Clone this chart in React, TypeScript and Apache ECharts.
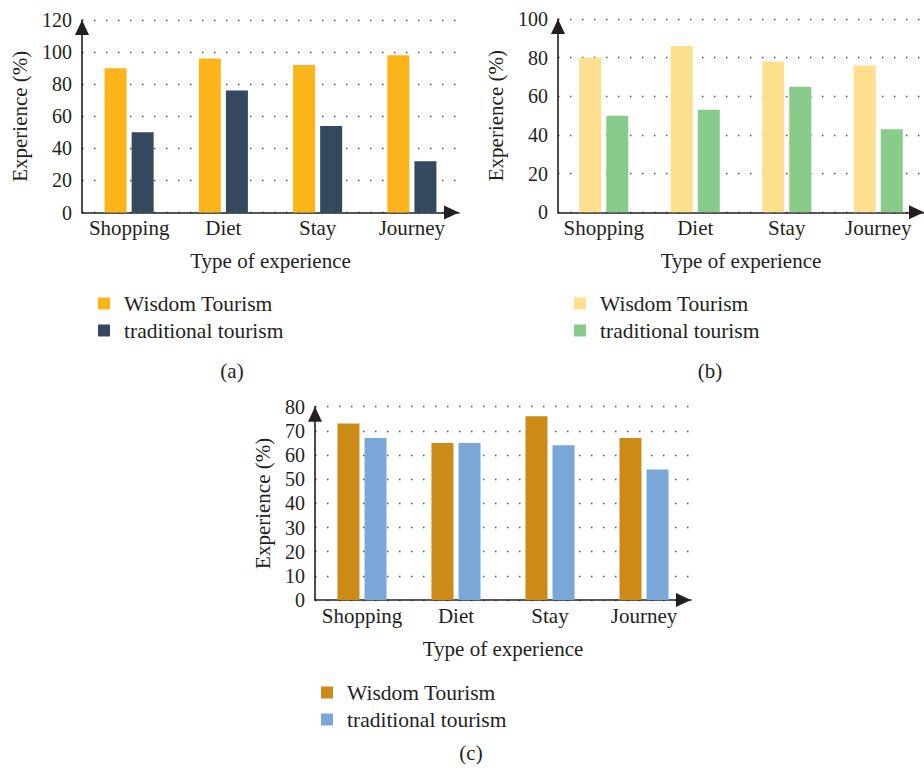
import React, { useEffect, useRef } from "react";
import * as echarts from "echarts";

const categories = ["Shopping", "Diet", "Stay", "Journey"];
const wisdomA = [90, 96, 92, 98];
const traditionalA = [50, 76, 54, 32];
const wisdomB = [80, 86, 78, 76];
const traditionalB = [50, 53, 65, 43];
const wisdomC = [73, 65, 76, 67];
const traditionalC = [67, 65, 64, 54];
const seriesNames = ["Wisdom Tourism", "traditional tourism"];
const panelLabels = ["(a)", "(b)", "(c)"];
const xTitle = "Type of experience";
const yTitle = "Experience (%)";

const FONT = '"Liberation Serif", "Times New Roman", serif';
const INK = "#231f20";
const FS = 21;
const TICK_FS = 20;

type Panel = {
  key: string;
  left: number;
  top: number;
  width: number;
  height: number;
  max: number;
  interval: number;
  wisdom: number[];
  trad: number[];
  colors: [string, string];
  legendLeft: number;
  legendTop: number;
  yNameGap: number;
  label: string;
  labelX: number;
  labelY: number;
};

const panels: Panel[] = [
  {
    key: "a", left: 82, top: 20, width: 377, height: 192.5, max: 120, interval: 20,
    wisdom: wisdomA, trad: traditionalA, colors: ["#FBB41A", "#34495E"],
    legendLeft: 98, legendTop: 292.5, yNameGap: 52, label: panelLabels[0], labelX: 232, labelY: 371,
  },
  {
    key: "b", left: 558, top: 19, width: 377, height: 193.3, max: 100, interval: 20,
    wisdom: wisdomB, trad: traditionalB, colors: ["#FDDF8E", "#89CB8B"],
    legendLeft: 574, legendTop: 292.5, yNameGap: 52, label: panelLabels[1], labelX: 710, labelY: 371,
  },
  {
    key: "c", left: 315, top: 406.7, width: 376, height: 193.3, max: 80, interval: 10,
    wisdom: wisdomC, trad: traditionalC, colors: ["#CC8A17", "#78A7D8"],
    legendLeft: 321, legendTop: 681.5, yNameGap: 42, label: panelLabels[2], labelX: 471, labelY: 753,
  },
];

function buildOption() {
  const grid: any[] = [];
  const xAxis: any[] = [];
  const yAxis: any[] = [];
  const series: any[] = [];
  const legend: any[] = [];
  const graphic: any[] = [];
  const axisLine = {
    show: true,
    symbol: ["none", "triangle"],
    symbolSize: [14, 15],
    symbolOffset: [0, -7.5],
    lineStyle: { color: INK, width: 1.6 },
  };
  panels.forEach((p, i) => {
    grid.push({ left: p.left, top: p.top, width: p.width, height: p.height, containLabel: false });
    xAxis.push({
      type: "category",
      gridIndex: i,
      data: categories,
      boundaryGap: true,
      axisLine,
      axisTick: { show: false },
      axisLabel: { interval: 0, color: INK, fontFamily: FONT, fontSize: FS, margin: 5 },
      name: xTitle,
      nameLocation: "middle",
      nameGap: 38,
      nameTextStyle: { color: INK, fontFamily: FONT, fontSize: FS },
      splitLine: { show: false },
    });
    yAxis.push({
      type: "value",
      gridIndex: i,
      min: 0,
      max: p.max,
      interval: p.interval,
      axisLine,
      axisTick: { show: false },
      axisLabel: { color: INK, fontFamily: FONT, fontSize: TICK_FS, margin: 10 },
      splitLine: {
        show: true,
        lineStyle: { color: "#555", width: 1.3, type: [1.5, 10.5] },
      },
      name: yTitle,
      nameLocation: "middle",
      nameGap: p.yNameGap,
      nameRotate: 90,
      nameTextStyle: { color: INK, fontFamily: FONT, fontSize: FS },
    });
    const n0 = p.key + ":" + seriesNames[0];
    const n1 = p.key + ":" + seriesNames[1];
    series.push({
      type: "bar",
      name: n0,
      xAxisIndex: i,
      yAxisIndex: i,
      data: p.wisdom,
      barWidth: 22,
      barGap: "23%",
      itemStyle: { color: p.colors[0] },
    });
    series.push({
      type: "bar",
      name: n1,
      xAxisIndex: i,
      yAxisIndex: i,
      data: p.trad,
      barWidth: 22,
      barGap: "23%",
      itemStyle: { color: p.colors[1] },
    });
    legend.push({
      data: [n0, n1],
      orient: "vertical",
      left: p.legendLeft,
      top: p.legendTop,
      padding: 0,
      itemWidth: 12,
      itemHeight: 12,
      itemGap: 5,
      icon: "rect",
      selectedMode: false,
      formatter: (name: string) => name.slice(2),
      textStyle: { color: INK, fontFamily: FONT, fontSize: 21.5, padding: [0, 0, 0, 9] },
    });
    graphic.push({
      type: "text",
      x: p.labelX,
      y: p.labelY,
      style: {
        text: p.label,
        font: `${FS}px ${FONT}`,
        fill: INK,
        align: "center",
        verticalAlign: "middle",
        textAlign: "center",
        textVerticalAlign: "middle",
      },
    });
  });
  return {
    animation: false,
    backgroundColor: "#ffffff",
    grid,
    xAxis,
    yAxis,
    series,
    legend,
    graphic,
  };
}

export default function App() {
  const ref = useRef<HTMLDivElement>(null);
  useEffect(() => {
    if (!ref.current) return;
    const chart = echarts.init(ref.current, undefined, { renderer: "svg" });
    chart.setOption(buildOption() as any);
    return () => chart.dispose();
  }, []);
  return (
    <div
      ref={ref}
      style={{ position: "absolute", left: 0, top: 0, width: 924, height: 770, background: "#fff" }}
    />
  );
}
